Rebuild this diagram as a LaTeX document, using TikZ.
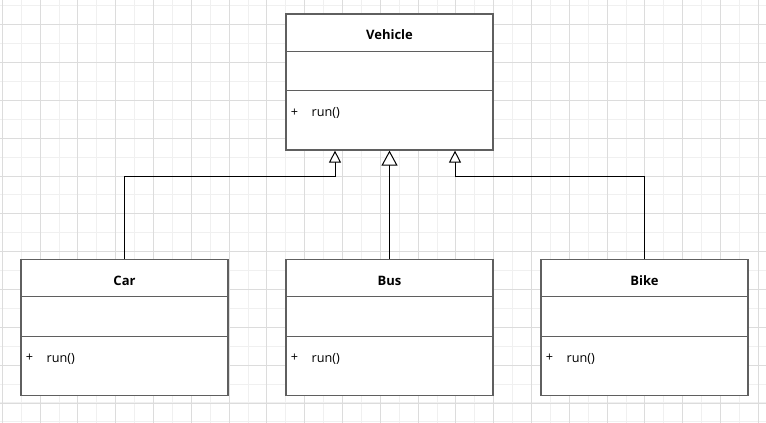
\documentclass[tikz,border=0pt]{standalone}
\usepackage{fontspec}
\setmainfont{Open Sans}
\usetikzlibrary{arrows.meta,calc}
\definecolor{gridlight}{HTML}{F0F0F0}
\definecolor{griddark}{HTML}{DCDCDC}
\definecolor{boxline}{HTML}{5F5F5F}
\tikzset{
	umlbox/.style={draw=boxline, line width=0.9pt, rectangle, fill=white, minimum width=155.25pt, minimum height=102pt, inner sep=0pt},
	umlline/.style={draw=boxline, line width=0.9pt},
	umltitle/.style={font=\fontsize{9.75}{11}\selectfont\bfseries, inner sep=0pt, anchor=base},
	umltext/.style={font=\fontsize{9.5}{11}\selectfont, inner sep=0pt, anchor=base},
	inherit/.style={draw=black, line width=0.75pt, -{Triangle[fill=white, length=9pt, width=9pt]}},
	inheritbig/.style={inherit, -{Triangle[fill=white, length=11.25pt, width=12pt]}}
}
\begin{document}
\begin{tikzpicture}[x=0.75pt, y=-0.75pt]
				\fill[white] (0,0) rectangle (766,423);
				\useasboundingbox (0,0) rectangle (766,423);
				\foreach \k in {0,...,40}
					\draw[gridlight, line width=0.75pt] ({2.3+18.9*\k},0) -- ({2.3+18.9*\k},423);
				\foreach \k in {0,...,22}
					\draw[gridlight, line width=0.75pt] (0,{6+18.9*\k}) -- (766,{6+18.9*\k});
				\foreach \k in {0,...,20}
					\draw[griddark, line width=0.75pt] ({2.3+37.8*\k},0) -- ({2.3+37.8*\k},423);
				\foreach \k in {0,...,10}
					\draw[griddark, line width=0.75pt] (0,{25+37.8*\k}) -- (766,{25+37.8*\k});
				\foreach \n/\t/\x/\y in {vehicle/Vehicle/389.5/82, car/Car/124.5/327.5, bus/Bus/389.5/327.5, bike/Bike/644.5/327.5}{
					\node[umlbox] (\n) at (\x, \y) {};
					\node[umltitle] (\n-title) at ($(\n.north)+(0,26.5)$) {\t};
					\draw[umlline] ($(\n.north west)+(0,38)$) -- ($(\n.north east)+(0,38)$);
					\draw[umlline] ($(\n.north west)+(0,77.5)$) -- ($(\n.north east)+(0,77.5)$);
					\node[umltext] (\n-vis) at ($(\n.north west)+(9,103)$) {+};
					\node[umltext, anchor=base west] (\n-run) at ($(\n.north west)+(26,103.5)$) {run()};
				}
				\coordinate (carin) at ($(vehicle.south)+(-54.5,0)$);
				\coordinate (bikein) at ($(vehicle.south)+(65.5,0)$);
				\draw[inherit] (car.north) -- ++(0,-82) -| (carin);
				\draw[inheritbig] (bus.north) -- (vehicle.south);
				\draw[inherit] (bike.north) -- ++(0,-82) -| (bikein);
			\end{tikzpicture}
\end{document}
